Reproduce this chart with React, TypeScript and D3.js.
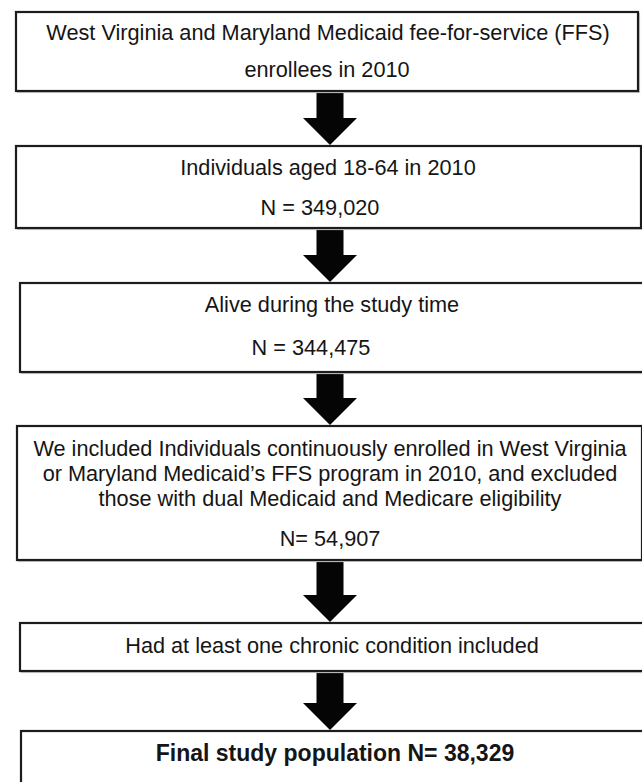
import * as d3 from 'd3';
import { useEffect, useRef } from 'react';

// Flowchart content: one entry per step
const stepLabels: string[][] = [
  ['West Virginia and Maryland Medicaid fee-for-service (FFS)', 'enrollees in 2010'],
  ['Individuals aged 18-64 in 2010'],
  ['Alive during the study time'],
  [
    'We included Individuals continuously enrolled in West Virginia',
    'or Maryland Medicaid\u2019s FFS program in 2010, and excluded',
    'those with dual Medicaid and Medicare eligibility',
  ],
  ['Had at least one chronic condition included'],
  [],
];

const stepCounts: (string | null)[] = [null, 'N = 349,020', 'N = 344,475', 'N= 54,907', null, null];

const finalLabel = 'Final study population N= 38,329';

// Box geometry (pixels) and where each text line sits
const boxLayout = [
  { x0: 16, x1: 638, y0: 12, y1: 91, lines: [[328, 32], [327, 69]] },
  { x0: 16, x1: 641, y0: 146, y1: 228, lines: [[328, 167], [320, 207]] },
  { x0: 20, x1: 648, y0: 283, y1: 372, lines: [[332, 304], [311, 347]] },
  { x0: 17, x1: 642, y0: 426, y1: 560, lines: [[330, 448], [330, 473], [330, 498], [330, 538]] },
  { x0: 20, x1: 648, y0: 623, y1: 671, lines: [[332, 645]] },
  { x0: 21, x1: 648, y0: 731, y1: 800, lines: [[335, 753]] },
];

const arrowX = 330;
const shaftW = 27;
const headW = 54;
const headH = 27;

const WIDTH = 642;
const HEIGHT = 782;

export default function App() {
  const svgRef = useRef<SVGSVGElement>(null);

  useEffect(() => {
    if (!svgRef.current) return;
    const svg = d3.select(svgRef.current);
    svg.selectAll('*').remove();

    svg.append('rect').attr('width', WIDTH).attr('height', HEIGHT).attr('fill', '#ffffff');

    const texts = stepLabels.map((lines, i) => {
      const t = [...lines];
      if (stepCounts[i]) t.push(stepCounts[i] as string);
      if (i === stepLabels.length - 1) t.push(finalLabel);
      return t;
    });

    // arrows between consecutive boxes
    const line = d3.line();
    d3.pairs(boxLayout).forEach(([a, b]) => {
      const top = a.y1;
      const tip = b.y0 - 1;
      const neck = tip - headH;
      const pts: [number, number][] = [
        [arrowX - shaftW / 2, top],
        [arrowX + shaftW / 2, top],
        [arrowX + shaftW / 2, neck],
        [arrowX + headW / 2, neck],
        [arrowX, tip],
        [arrowX - headW / 2, neck],
        [arrowX - shaftW / 2, neck],
      ];
      svg
        .append('path')
        .attr('d', line(pts) + 'Z')
        .attr('fill', '#050505');
    });

    // boxes
    const boxes = svg
      .selectAll('g.box')
      .data(boxLayout)
      .enter()
      .append('g')
      .attr('class', 'box');

    boxes
      .append('rect')
      .attr('x', (d) => d.x0 + 1.5)
      .attr('y', (d) => d.y0 + 1.5)
      .attr('width', (d) => d.x1 - d.x0)
      .attr('height', (d) => d.y1 - d.y0)
      .attr('fill', 'none')
      .attr('stroke', '#c8c8c8')
      .attr('stroke-width', 1.2);

    boxes
      .append('rect')
      .attr('x', (d) => d.x0)
      .attr('y', (d) => d.y0)
      .attr('width', (d) => d.x1 - d.x0)
      .attr('height', (d) => d.y1 - d.y0)
      .attr('fill', '#ffffff')
      .attr('stroke', '#1c1c1c')
      .attr('stroke-width', 2.2);

    boxes.each(function (d, i) {
      const g = d3.select(this);
      const last = i === boxLayout.length - 1;
      texts[i].forEach((txt, j) => {
        const [cx, cy] = d.lines[j];
        g.append('text')
          .attr('x', cx)
          .attr('y', cy)
          .attr('dy', '0.35em')
          .attr('text-anchor', 'middle')
          .attr('font-family', '"Liberation Sans", Arial, sans-serif')
          .attr('font-size', last ? 23 : 21.7)
          .attr('font-weight', last ? 'bold' : 'normal')
          .attr('fill', '#151515')
          .text(txt);
      });
    });
  }, []);

  return (
    <div style={{ position: 'absolute', top: 0, left: 0, width: WIDTH, height: HEIGHT, overflow: 'hidden' }}>
      <svg ref={svgRef} width={WIDTH} height={HEIGHT} style={{ display: 'block' }}></svg>
    </div>
  );
}
